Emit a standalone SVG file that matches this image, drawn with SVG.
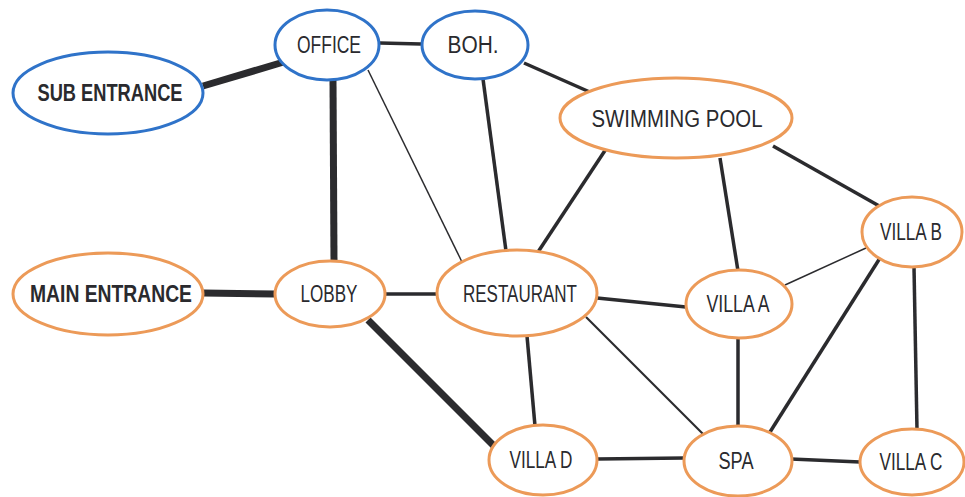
<svg xmlns="http://www.w3.org/2000/svg" width="965" height="497" viewBox="0 0 965 497">
<style>
.b{fill:#fff;stroke:#2f73c9;stroke-width:3}
.o{fill:#fff;stroke:#ec9a58;stroke-width:3}
text{font-family:"Liberation Sans",Arial,sans-serif;font-size:23px;fill:#2a2a2e;text-anchor:middle;lengthAdjust:spacingAndGlyphs}
.bold{font-weight:bold}
#edges line{stroke:#2b2b2e;stroke-linecap:butt}
.k{stroke-width:7}
.m{stroke-width:3.5}
.t{stroke-width:1.5}
.t2{stroke-width:2.2}
</style>
<rect width="965" height="497" fill="#fff"/>
<g id="edges">
<line class="k" x1="203" y1="86" x2="287" y2="61"/>
<line class="m" x1="380" y1="43" x2="421" y2="44"/>
<line class="k" x1="333" y1="80" x2="334" y2="262"/>
<line class="t" x1="368" y1="70" x2="462" y2="262"/>
<line class="m" x1="483" y1="79" x2="506" y2="251"/>
<line class="m" x1="524" y1="63" x2="592" y2="93"/>
<line class="m" x1="606" y1="149" x2="538" y2="252"/>
<line class="m" x1="720" y1="158" x2="738" y2="271"/>
<line class="m" x1="773" y1="146" x2="881" y2="207"/>
<line class="k" x1="203" y1="293" x2="275" y2="294"/>
<line class="m" x1="385" y1="294" x2="438" y2="294"/>
<line class="k" x1="368" y1="320" x2="494" y2="446"/>
<line class="m" x1="597" y1="298" x2="686" y2="307"/>
<line class="m" x1="527" y1="336" x2="535" y2="426"/>
<line class="t2" x1="586" y1="317" x2="703" y2="434"/>
<line class="t" x1="785" y1="285" x2="866" y2="248"/>
<line class="m" x1="738" y1="338" x2="738" y2="426"/>
<line class="m" x1="880" y1="258" x2="770" y2="432"/>
<line class="m" x1="914" y1="267" x2="917" y2="430"/>
<line class="m" x1="597" y1="459" x2="684" y2="458"/>
<line class="m" x1="791" y1="459" x2="860" y2="462"/>
</g>
<g id="sub-entrance"><ellipse class="b" cx="108" cy="93" rx="95" ry="41"/><text class="bold" x="110" y="101" textLength="145" lengthAdjust="spacingAndGlyphs">SUB ENTRANCE</text></g>
<g id="office"><ellipse class="b" cx="327" cy="45" rx="52" ry="35"/><text x="329" y="53" textLength="64" lengthAdjust="spacingAndGlyphs">OFFICE</text></g>
<g id="boh"><ellipse class="b" cx="475" cy="45" rx="53" ry="34"/><text x="473" y="53" textLength="51" lengthAdjust="spacingAndGlyphs">BOH.</text></g>
<g id="swimming-pool"><ellipse class="o" cx="676" cy="118" rx="116" ry="40"/><text x="677" y="127" textLength="171" lengthAdjust="spacingAndGlyphs">SWIMMING POOL</text></g>
<g id="villa-b"><ellipse class="o" cx="912" cy="232" rx="50" ry="35"/><text x="911" y="240" textLength="62" lengthAdjust="spacingAndGlyphs">VILLA B</text></g>
<g id="main-entrance"><ellipse class="o" cx="108" cy="294" rx="95" ry="41"/><text class="bold" x="111" y="302" textLength="162" lengthAdjust="spacingAndGlyphs">MAIN ENTRANCE</text></g>
<g id="lobby"><ellipse class="o" cx="330" cy="294" rx="55" ry="33"/><text x="329" y="302" textLength="57" lengthAdjust="spacingAndGlyphs">LOBBY</text></g>
<g id="restaurant"><ellipse class="o" cx="517" cy="293" rx="80" ry="43"/><text x="520" y="302" textLength="114" lengthAdjust="spacingAndGlyphs">RESTAURANT</text></g>
<g id="villa-a"><ellipse class="o" cx="739" cy="304" rx="53" ry="34"/><text x="738" y="312" textLength="63" lengthAdjust="spacingAndGlyphs">VILLA A</text></g>
<g id="villa-d"><ellipse class="o" cx="543" cy="460" rx="54" ry="35"/><text x="541" y="468" textLength="63" lengthAdjust="spacingAndGlyphs">VILLA D</text></g>
<g id="spa"><ellipse class="o" cx="738" cy="461" rx="54" ry="35"/><text x="736" y="469" textLength="35" lengthAdjust="spacingAndGlyphs">SPA</text></g>
<g id="villa-c"><ellipse class="o" cx="912" cy="462" rx="52" ry="33"/><text x="911" y="470" textLength="63" lengthAdjust="spacingAndGlyphs">VILLA C</text></g>
</svg>
